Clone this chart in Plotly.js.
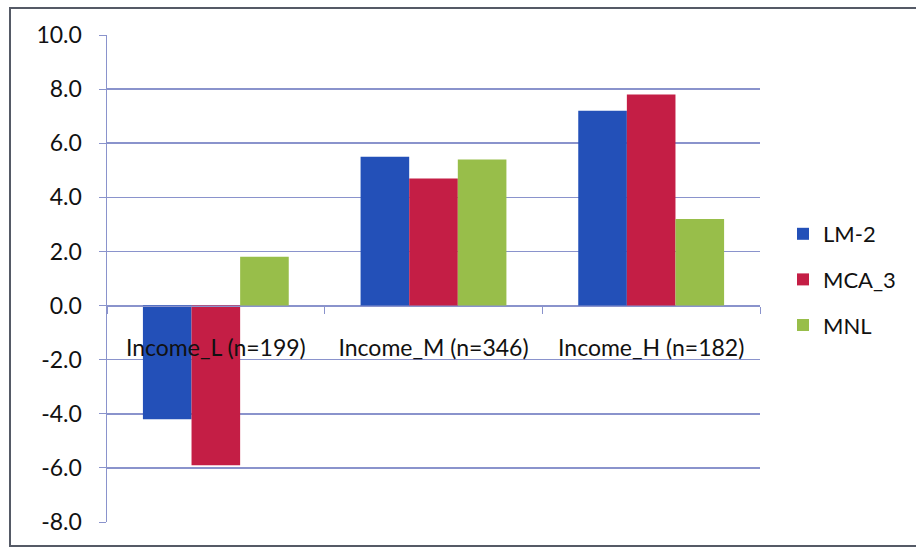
<!DOCTYPE html>
<html>
<head>
<meta charset="utf-8">
<script src="https://cdn.plot.ly/plotly-3.0.1.min.js"></script>
<style>
  html, body { margin: 0; padding: 0; background: #fff; }
  #chart { width: 916px; height: 549px; }
</style>
</head>
<body>
<div id="chart"></div>
<script>
// Income groups on the category axis
const categories = ['Income_L (n=199)', 'Income_M (n=346)', 'Income_H (n=182)'];

// Series values per income group
const lm2   = [-4.2, 5.5, 7.2];
const mca3  = [-5.9, 4.7, 7.8];
const mnl   = [1.8, 5.4, 3.2];

const seriesNames = ['LM-2', 'MCA_3', 'MNL'];
const seriesColors = ['#2350B8', '#C41E45', '#98BE4A'];
const seriesValues = [lm2, mca3, mnl];

const yTicks = [10, 8, 6, 4, 2, 0, -2, -4, -6, -8];
const yTickText = yTicks.map(v => v.toFixed(1));

const traces = seriesValues.map((vals, i) => ({
  type: 'bar',
  name: seriesNames[i],
  x: categories,
  y: vals,
  legendgroup: 'g' + i,
  marker: { color: seriesColors[i], line: { width: 0 } },
  hoverinfo: 'x+y+name'
}));

const W = 916, H = 549;
const M = { l: 107, r: 156, t: 35, b: 27 };
const pw = W - M.l - M.r, ph = H - M.t - M.b;
const px = v => (v - M.l) / pw;           // page x -> paper x
const py = v => (H - M.b - v) / ph;       // page y -> paper y

const gridColor = '#8A93CC';
const font = 'Lato, "Liberation Sans", sans-serif';
const fontSize = 23;

const layout = {
  width: W, height: H,
  margin: M,
  paper_bgcolor: '#ffffff',
  plot_bgcolor: '#ffffff',
  showlegend: true,
  barmode: 'group',
  bargap: 0.33,
  bargroupgap: 0,
  font: { family: font, size: fontSize, color: '#111' },
  xaxis: {
    type: 'category',
    anchor: 'free',
    position: 8 / 18,
    showgrid: false,
    zeroline: false,
    showline: true,
    linecolor: gridColor,
    linewidth: 1.5,
    ticks: 'outside',
    tickson: 'boundaries',
    ticklen: 7,
    tickcolor: gridColor,
    ticklabelstandoff: 21,
    tickfont: { family: font, size: fontSize, color: '#111' },
    fixedrange: true
  },
  yaxis: {
    range: [-8, 10],
    tickvals: yTicks,
    ticktext: yTickText,
    showgrid: true,
    gridcolor: gridColor,
    gridwidth: 1.5,
    zeroline: false,
    showline: true,
    linecolor: gridColor,
    linewidth: 1.5,
    ticks: 'outside',
    ticklen: 7,
    tickcolor: gridColor,
    ticklabelstandoff: 12,
    tickfont: { family: font, size: fontSize, color: '#111' },
    fixedrange: true
  },
  legend: {
    x: px(783), xanchor: 'left',
    y: py(213), yanchor: 'top',
    font: { family: font, size: 22, color: '#111' },
    tracegroupgap: 14,
    itemwidth: 30,
    bgcolor: 'rgba(0,0,0,0)'
  },
  shapes: [{
    type: 'rect', xref: 'paper', yref: 'paper',
    x0: px(10), x1: px(925), y0: py(546), y1: py(8),
    line: { color: '#555a66', width: 2 },
    fillcolor: 'rgba(0,0,0,0)',
    layer: 'below'
  }]
};

Plotly.newPlot('chart', traces, layout, { displayModeBar: false, staticPlot: true });
</script>
</body>
</html>
